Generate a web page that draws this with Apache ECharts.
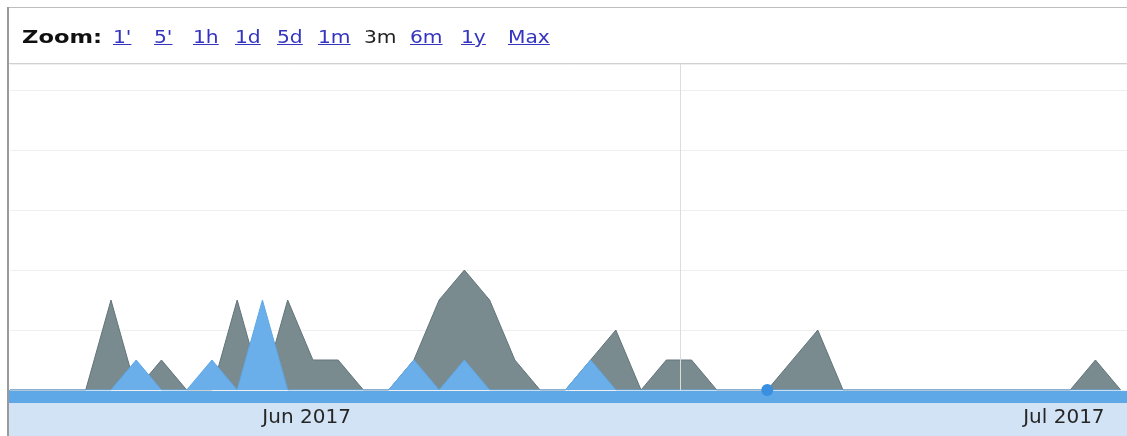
<!DOCTYPE html>
<html>
<head>
<meta charset="utf-8">
<script src="https://cdn.jsdelivr.net/npm/echarts@6/dist/echarts.min.js"></script>
<style>
  html, body { margin: 0; padding: 0; background: #fff; }
  #wrap { position: relative; width: 1127px; height: 436px; overflow: hidden; }
  #chart { position: absolute; left: 0; top: 0; width: 1127px; height: 436px; }
  #frameTop { position: absolute; left: 7px; top: 7px; right: 0; height: 0; border-top: 1px solid #bdbdbd; }
  #frameLeft { position: absolute; left: 7px; top: 7px; bottom: 0; width: 0; border-left: 2px solid #9a9a9a; }
  #sep { position: absolute; left: 9px; top: 63px; right: 0; height: 0; border-top: 1px solid #d0d0d0; }
  .zb { position: absolute; top: 29px; font-family: "DejaVu Sans", Verdana, sans-serif; font-size: 17px; line-height: 17px;
        white-space: nowrap; transform-origin: 0 0; }
  .lnk { color: #3434c0; text-decoration: underline; }
  .cur { color: #222; }
  .lbl { color: #111; font-weight: bold; }
</style>
</head>
<body>
<div id="wrap">
  <div id="chart"></div>
  <div id="frameTop"></div>
  <div id="frameLeft"></div>
  <div id="sep"></div>
  <div id="bar"></div>
</div>
<script>
// ---- data ----
const dates = [
  '2017-05-20','2017-05-21','2017-05-22','2017-05-23','2017-05-24','2017-05-25','2017-05-26','2017-05-27',
  '2017-05-28','2017-05-29','2017-05-30','2017-05-31','2017-06-01','2017-06-02','2017-06-03','2017-06-04',
  '2017-06-05','2017-06-06','2017-06-07','2017-06-08','2017-06-09','2017-06-10','2017-06-11','2017-06-12',
  '2017-06-13','2017-06-14','2017-06-15','2017-06-16','2017-06-17','2017-06-18','2017-06-19','2017-06-20',
  '2017-06-21','2017-06-22','2017-06-23','2017-06-24','2017-06-25','2017-06-26','2017-06-27','2017-06-28',
  '2017-06-29','2017-06-30','2017-07-01','2017-07-02','2017-07-03'
];
const graySeries = [0,0,0,0,3,0,1,0,0,3,0,3,1,1,0,0,1,3,4,3,1,0,0,1,2,0,1,1,0,0,0,1,2,0,0,0,0,0,0,0,0,0,0,1,0];
const blueSeries = [0,0,0,0,0,1,0,0,1,0,3,0,0,0,0,0,1,0,1,0,0,0,0,1,0,0,0,0,0,0,0,0,0,0,0,0,0,0,0,0,0,0,0,0,0];
const tickDates  = ['2017-06-01','2017-07-01'];
const tickLabels = ['Jun 2017','Jul 2017'];
const zoomLabel = 'Zoom:';
const zoomButtons = ["1'","5'","1h","1d","5d","1m","3m","6m","1y","Max"];
const activeButton = '3m';
const hoverIndex = 30;
const cursorTime = '2017-06-15T19:12:00';

// ---- toolbar (real text) ----
const bar = document.getElementById('bar');
const btnLeft = [113,154,193,235,277,318,364,410,461,508];
const zl = document.createElement('span');
zl.className = 'zb lbl'; zl.textContent = zoomLabel; zl.style.left = '22px';
zl.style.transform = 'scaleX(1.33)';
bar.appendChild(zl);
zoomButtons.forEach((b, i) => {
  const s = document.createElement('span');
  s.className = 'zb ' + (b === activeButton ? 'cur' : 'lnk');
  s.textContent = b;
  s.style.left = btnLeft[i] + 'px';
  s.style.transform = 'scaleX(1.19)';
  bar.appendChild(s);
});

// ---- chart ----
const DAY = 86400000;
const sampleHour = 'T06:00:00';
const times = dates.map(d => new Date(d + sampleHour).getTime());
const tickTimes = tickDates.map(d => new Date(d + 'T00:00:00').getTime());

const chart = echarts.init(document.getElementById('chart'), null, { renderer: 'canvas' });
chart.setOption({
  animation: false,
  grid: { left: 10, right: 0, top: 64, bottom: 46, containLabel: false },
  graphic: [
    { type: 'rect', left: 9, top: 390, shape: { width: 1118, height: 13 }, style: { fill: '#5ea8e8' }, z: 0 },
    { type: 'rect', left: 9, top: 403, shape: { width: 1118, height: 33 }, style: { fill: '#d3e3f6' }, z: 0 }
  ],
  xAxis: {
    type: 'value',
    min: times[0],
    max: times[times.length - 1] + 0.25 * DAY,
    axisLine: { show: false },
    axisTick: { show: false },
    splitLine: { show: false },
    axisLabel: {
      customValues: tickTimes,
      formatter: function (val) {
        const k = tickTimes.indexOf(val);
        return k >= 0 ? tickLabels[k] : '';
      },
      color: '#262626',
      fontFamily: 'DejaVu Sans',
      fontSize: 20,
      margin: 18,
      hideOverlap: false
    }
  },
  yAxis: {
    type: 'value',
    min: 0,
    max: 10.87,
    interval: 2,
    axisLine: { show: false },
    axisTick: { show: false },
    axisLabel: { show: false },
    splitLine: { lineStyle: { color: '#efefef', width: 1 } }
  },
  series: [
    {
      name: 'Series A',
      type: 'line',
      data: times.map((t, i) => [t, graySeries[i]]),
      symbol: 'none',
      lineStyle: { color: '#62757a', width: 1 },
      areaStyle: { color: '#7a8b90', opacity: 1 },
      z: 2,
      markLine: {
        silent: true,
        symbol: 'none',
        label: { show: false },
        lineStyle: { color: '#dcdcdc', width: 1, type: 'solid' },
        data: [{ xAxis: new Date(cursorTime).getTime() }]
      }
    },
    {
      name: 'Series B',
      type: 'line',
      data: times.map((t, i) => [t, blueSeries[i]]),
      symbol: 'none',
      lineStyle: { color: '#5ea8e8', width: 1 },
      areaStyle: { color: '#6aafea', opacity: 1 },
      z: 3,
      markPoint: {
        symbol: 'circle',
        symbolSize: 12,
        label: { show: false },
        itemStyle: { color: '#3a8fe0' },
        data: [{ coord: [times[hoverIndex], blueSeries[hoverIndex]] }]
      }
    }
  ]
});
</script>
</body>
</html>
